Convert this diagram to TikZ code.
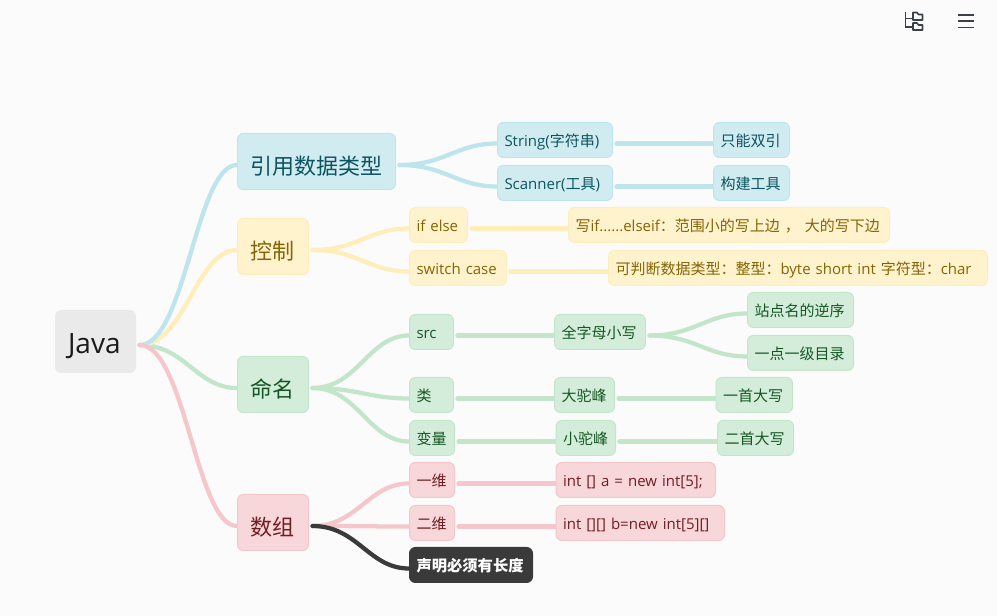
\documentclass[tikz,border=0pt]{standalone}
\usepackage{fontspec}
\setmainfont{Open Sans}
\newfontfamily\cjk{Noto Sans CJK SC}
\usetikzlibrary{calc,backgrounds}
\pgfdeclarelayer{bg}\pgfdeclarelayer{links}\pgfsetlayers{bg,links,main}
\definecolor{pagebg}{HTML}{FBFBFB}
\definecolor{bluef}{HTML}{D1ECF1}\definecolor{bluel}{HTML}{BEE5EB}\definecolor{bluet}{HTML}{0C5460}
\definecolor{yelf}{HTML}{FFF3CD}\definecolor{yell}{HTML}{FFEEBA}\definecolor{yelt}{HTML}{856404}
\definecolor{grnf}{HTML}{D4EDDA}\definecolor{grnl}{HTML}{C3E6CB}\definecolor{grnt}{HTML}{155724}
\definecolor{redf}{HTML}{F8D7DA}\definecolor{redl}{HTML}{F5C6CB}\definecolor{redt}{HTML}{721C24}
\definecolor{darkn}{HTML}{3A3A3A}\definecolor{rootf}{HTML}{EAEAEA}\definecolor{iconc}{HTML}{3A4045}
\tikzset{
 mbox/.style={rounded corners=4.5pt,line width=0.75pt,inner sep=0pt,align=left},
 bluebox/.style={mbox,fill=bluef,draw=bluel,text=bluet},
 yelbox/.style={mbox,fill=yelf,draw=yell,text=yelt},
 grnbox/.style={mbox,fill=grnf,draw=grnl,text=grnt},
 redbox/.style={mbox,fill=redf,draw=redl,text=redt},
 darkbox/.style={mbox,fill=darkn,draw=darkn,text=white},
 rootbox/.style={mbox,fill=rootf,draw=rootf,text=black!90},
 wire/.style={line width=3.2pt,line cap=round},
 bluew/.style={wire,draw=bluel},
 yelw/.style={wire,draw=yell},
 grnw/.style={wire,draw=grnl},
 redw/.style={wire,draw=redl},
 darkw/.style={wire,draw=darkn},
 icon/.style={draw=iconc,line width=1.2pt},
}
% style, name, left, top, right, bottom, padding(px), font px, text
\newcommand{\mnode}[9]{%
 \pgfmathsetmacro\mW{(#5-#3-1)*0.75}%
 \pgfmathsetmacro\mH{(#6-#4-1)*0.75}%
 \pgfmathsetmacro\mP{(#7-0.5)*0.75}%
 \pgfmathsetmacro\mF{#8*0.75}%
 \pgfmathsetmacro\mA{\mF*0.72}%
 \pgfmathsetmacro\mD{\mF*0.28-(#8-13)*0.18}%
 \pgfmathsetmacro\mS{((#8-15)*0.64+2.5)*0.75}%
 \node[#1,minimum height=\mH pt,text width=\mW pt,text height=\mA pt,text depth=\mD pt,font=\fontsize{\mF pt}{\mF pt}\selectfont] (#2) at ({(#3+#5)/2},{(#4+#6)/2}) {\hspace*{\mP pt}\raisebox{-\mS pt}{#9}};%
}
\newcommand{\mlink}[3]{%
 \begin{pgfonlayer}{links}
 \draw[#1] let \p1=($(#2.east)+(3.5,3.5)$), \p2=($(#3.west)+(0,3.5)$), \n1={\x2-\x1} in
  (\p1) .. controls ($(\p1)+(0.47*\n1,0pt)$) and ($(\p2)-(0.42*\n1,0pt)$) .. (\p2);
 \end{pgfonlayer}}
\begin{document}
\begin{tikzpicture}[x=0.75pt,y=-0.75pt]
\useasboundingbox (0,0) rectangle (997,616);
\begin{pgfonlayer}{bg}\fill[pagebg] (0,0) rectangle (997,616);\end{pgfonlayer}
% root and first level
\mnode{rootbox}{java}{55}{310}{136}{373}{13}{28}{\raisebox{5.1pt}{Java}}
\mnode{bluebox}{yy}{237}{133}{396}{190}{13}{22}{\cjk 引用数据类型}
\mnode{yelbox}{kz}{237}{218}{309}{275}{13}{22}{\cjk 控制}
\mnode{grnbox}{mm}{237}{356}{309}{413}{13}{22}{\cjk 命名}
\mnode{redbox}{sz}{237}{494}{309}{551}{13}{22}{\cjk 数组}
% blue
\mnode{bluebox}{str}{497}{122}{613}{158}{7.5}{15}{String({\cjk 字符串})}
\mnode{bluebox}{scan}{497}{165}{613}{201}{7.5}{15}{Scanner({\cjk 工具})}
\mnode{bluebox}{sy}{713}{122}{790}{158}{7.5}{15}{\cjk 只能双引}
\mnode{bluebox}{gj}{713}{165}{790}{201}{7.5}{15}{\cjk 构建工具}
% yellow
\mnode{yelbox}{ife}{409}{207}{468}{243}{7.5}{15}{if else}
\mnode{yelbox}{sw}{409}{250}{507}{286}{7.5}{15}{switch case}
\mnode{yelbox}{xie}{568}{207}{890}{243}{7.5}{15}{{\cjk 写}if......elseif{\cjk ：范围小的写上边 ， 大的写下边}}
\mnode{yelbox}{kp}{608}{250}{988}{286}{7.5}{15}{{\cjk 可判断数据类型：整型：}byte short int {\cjk 字符型：}char}
% green
\mnode{grnbox}{src}{409}{314}{454}{350}{7.5}{15}{src}
\mnode{grnbox}{lei}{409}{377}{454}{413}{7.5}{15}{\cjk 类}
\mnode{grnbox}{bl}{409}{420}{455}{456}{7.5}{15}{\cjk 变量}
\mnode{grnbox}{qz}{554}{314}{646}{350}{7.5}{15}{\cjk 全字母小写}
\mnode{grnbox}{dt}{554}{377}{615}{413}{7.5}{15}{\cjk 大驼峰}
\mnode{grnbox}{xt}{555.5}{420}{616}{456}{7.5}{15}{\cjk 小驼峰}
\mnode{grnbox}{zd}{747}{292}{854}{328}{7.5}{15}{\cjk 站点名的逆序}
\mnode{grnbox}{yd}{747}{335}{854}{371}{7.5}{15}{\cjk 一点一级目录}
\mnode{grnbox}{ys}{715.5}{377}{793}{413}{7.5}{15}{\cjk 一首大写}
\mnode{grnbox}{es}{717}{420}{794}{456}{7.5}{15}{\cjk 二首大写}
% red
\mnode{redbox}{yw}{409}{462}{455}{498}{7.5}{15}{\cjk 一维}
\mnode{redbox}{ew}{409}{505}{455}{541}{7.5}{15}{\cjk 二维}
\mnode{darkbox}{sm}{409}{547}{533}{583}{7.5}{15.3}{\cjk\bfseries 声明必须有长度}
\mnode{redbox}{ia}{555.5}{462}{716}{498}{7.5}{15}{int [] a = new int[5];}
\mnode{redbox}{ib}{555.5}{505}{725}{541}{7.5}{15}{int [][] b=new int[5][]}
% connectors
\mlink{grnw}{java}{mm}
\mlink{yelw}{java}{kz}
\mlink{bluew}{java}{yy}
\mlink{redw}{java}{sz}
\mlink{bluew}{yy}{str}\mlink{bluew}{yy}{scan}\mlink{bluew}{str}{sy}\mlink{bluew}{scan}{gj}
\mlink{yelw}{kz}{ife}\mlink{yelw}{kz}{sw}\mlink{yelw}{ife}{xie}\mlink{yelw}{sw}{kp}
\mlink{grnw}{mm}{src}\mlink{grnw}{mm}{lei}\mlink{grnw}{mm}{bl}
\mlink{grnw}{src}{qz}\mlink{grnw}{lei}{dt}\mlink{grnw}{bl}{xt}
\mlink{grnw}{qz}{zd}\mlink{grnw}{qz}{yd}\mlink{grnw}{dt}{ys}\mlink{grnw}{xt}{es}
\mlink{redw}{sz}{yw}\mlink{redw}{sz}{ew}\mlink{redw}{yw}{ia}\mlink{redw}{ew}{ib}
\mlink{darkw}{sz}{sm}
% toolbar icons
\draw[icon] (905.5,12.5)--(905.5,27)--(913,27);
\draw[icon] (905.5,18.5)--(913,18.5);
\draw[icon,line join=round] (913,12.5)--(917,12.5)--(918.5,14.5)--(922.5,14.5)--(922.5,20)--(913,20)--cycle;
\draw[icon,line join=round] (913,23)--(917,23)--(918.5,25)--(922.5,25)--(922.5,30)--(913,30)--cycle;
\draw[icon] (958,15)--(973.5,15);
\draw[icon] (958,21.3)--(973.5,21.3);
\draw[icon] (958,27.5)--(973.5,27.5);
\end{tikzpicture}
\end{document}
